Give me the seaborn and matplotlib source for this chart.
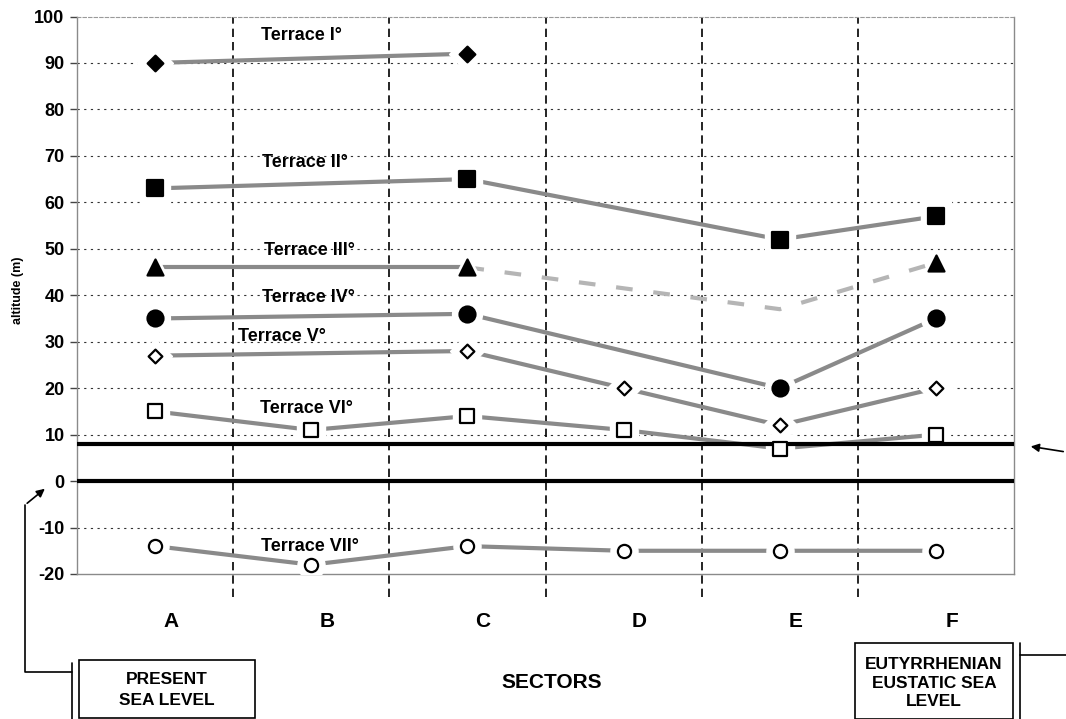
import numpy as np
import pandas as pd
import matplotlib
matplotlib.use('Agg')
import matplotlib.pyplot as plt
from matplotlib.lines import Line2D
from matplotlib.patches import Rectangle, FancyArrowPatch
import seaborn as sns

# --- Data ---
sectors = ['A', 'B', 'C', 'D', 'E', 'F']
nan = np.nan
terrace_1 = [90, nan, 92, nan, nan, nan]
terrace_2 = [63, nan, 65, nan, 52, 57]
terrace_3 = [46, nan, 46, nan, 37, 47]   # no marker at E, dashed after C
terrace_4 = [35, nan, 36, nan, 20, 35]
terrace_5 = [27, nan, 28, 20, 12, 20]
terrace_6 = [15, 11, 14, 11, 7, 10]
terrace_7 = [-14, -18, -14, -15, -15, -15]
terrace_names = ['Terrace I°', 'Terrace II°', 'Terrace III°', 'Terrace IV°',
                 'Terrace V°', 'Terrace VI°', 'Terrace VII°']
eutyrrhenian_level = 8
present_level = 0

terraces = [terrace_1, terrace_2, terrace_3, terrace_4, terrace_5, terrace_6, terrace_7]

# marker style per terrace: (marker, size, filled)
styles = [('D', 8, True), ('s', 11, True), ('^', 11.5, True), ('o', 11.5, True),
          ('D', 7, False), ('s', 10, False), ('o', 9.5, False)]
# label anchor (x in sector units, y in metres)
label_pos = [(0.94, 95.9), (0.96, 68.6), (0.99, 49.7), (0.98, 39.6),
             (0.81, 31.2), (0.97, 15.7), (0.99, -14.0)]

sns.set_style('white')
plt.rcParams['font.family'] = ['Liberation Sans', 'DejaVu Sans']
plt.rcParams['font.weight'] = 'bold'
plt.rcParams['text.color'] = 'black'
plt.rcParams['ytick.color'] = 'black'
plt.rcParams['axes.unicode_minus'] = False

W, H = 1066, 719
fig = plt.figure(figsize=(W / 100, H / 100), dpi=100)
ax = fig.add_axes([77 / W, 1 - 574 / H, (1014 - 77) / W, (574 - 16.5) / H])

LINE = '#8a8a8a'
x_idx = np.arange(len(sectors))

for i, (vals, (mk, ms, filled)) in enumerate(zip(terraces, styles)):
    df = pd.DataFrame({'x': x_idx, 'y': vals}).dropna()
    if i == 2:
        solid = df[df['x'] <= 2]
        dashed = df[df['x'] >= 2]
        sns.lineplot(data=solid, x='x', y='y', ax=ax, color=LINE, lw=3, zorder=3)
        sns.lineplot(data=dashed, x='x', y='y', ax=ax, color='#b5b5b5', lw=3,
                     linestyle=(0, (4, 5)), zorder=3)
        df = df[df['x'] != 4]
    else:
        sns.lineplot(data=df, x='x', y='y', ax=ax, color=LINE, lw=3, zorder=3)
    # white halo to leave a gap between line and marker
    ax.plot(df['x'], df['y'], ls='none', marker=mk, ms=ms + 10, mfc='white',
            mec='white', zorder=4)
    sns.scatterplot(data=df, x='x', y='y', ax=ax, marker=mk, s=ms ** 2,
                    color='black' if filled else 'white', edgecolor='black',
                    linewidth=1.6, zorder=6)
    lx, ly = label_pos[i]
    ax.text(lx, ly, terrace_names[i], ha='center', va='center', fontsize=13,
            fontweight='bold', color='black', zorder=7)

# sea levels
ax.axhline(eutyrrhenian_level, color='black', lw=3, zorder=5)
ax.axhline(present_level, color='black', lw=3, zorder=5)

# grid
for yv in range(-10, 100, 10):
    ax.axhline(yv, color='#333333', lw=0.8, ls=(0, (2, 4)), zorder=1)
for xb in np.arange(0.5, len(sectors) - 1, 1):
    ax.axvline(xb, ymin=-0.041, ymax=1, color='black', lw=1.2,
               ls=(0, (5, 3)), zorder=2, clip_on=False)

ax.set_xlim(-0.5, len(sectors) - 0.5)
ax.set_ylim(-20, 100)
ax.set_yticks(range(-20, 101, 10))
ax.set_xticks([])
ax.set_xlabel('')
ax.set_ylabel('')
ax.tick_params(axis='y', direction='out', length=5, width=1, color='#444444',
               labelsize=13, pad=4, left=True, labelcolor='black')
for lab in ax.get_yticklabels():
    lab.set_fontweight('bold')

for side in ['left', 'bottom', 'right']:
    ax.spines[side].set_color('#8a8a8a')
    ax.spines[side].set_linewidth(1)
ax.spines['top'].set_color('#9a9a9a')
ax.spines['top'].set_linestyle((0, (3, 2)))

# sector labels
for i, s in enumerate(sectors):
    ax.text(i + 0.1, -0.086, s, transform=ax.get_xaxis_transform(), ha='center',
            va='center', fontsize=15, fontweight='bold', color='black')

fig.text(552 / W, 1 - 683 / H, 'SECTORS', ha='center', va='center',
         fontsize=15, fontweight='bold')
fig.text(18 / W, 1 - 290 / H, 'altitude (m)', ha='center', va='center',
         rotation=90, fontsize=9, fontweight='bold')


def fx(px):
    return px / W


def fy(py):
    return 1 - py / H


def fline(xs, ys, **kw):
    fig.add_artist(Line2D([fx(v) for v in xs], [fy(v) for v in ys],
                          transform=fig.transFigure, color='black', **kw))


# boxes
fig.add_artist(Rectangle((fx(79), fy(718)), fx(255) - fx(79), fy(660) - fy(718),
                         transform=fig.transFigure, fill=False, lw=1.2,
                         ec='black'))
fig.text(fx(167), fy(690), 'PRESENT\nSEA LEVEL', ha='center', va='center',
         fontsize=12.5, fontweight='bold', linespacing=1.45)
fig.add_artist(Rectangle((fx(855), fy(719)), fx(1013) - fx(855), fy(643) - fy(719),
                         transform=fig.transFigure, fill=False, lw=1.2,
                         ec='black'))
fig.text(fx(934), fy(683), 'EUTYRRHENIAN\nEUSTATIC SEA\nLEVEL', ha='center',
         va='center', fontsize=12.5, fontweight='bold', linespacing=1.3)

# connectors
fline([72, 72], [663, 719], lw=1.2)
fline([72, 25, 25], [672, 672, 505], lw=1.2)
fig.add_artist(FancyArrowPatch(
    (fx(25), fy(505)), (fx(47), fy(487)), transform=fig.transFigure,
    arrowstyle='-|>', mutation_scale=12, color='black', lw=1.2))
fline([1020, 1020], [643, 719], lw=1.2)
fline([1020, 1066], [655, 655], lw=1.2)
fig.add_artist(FancyArrowPatch(
    (fx(1066), fy(452)), (fx(1028), fy(446)), transform=fig.transFigure,
    arrowstyle='-|>', mutation_scale=12, color='black', lw=1.2))

fig.savefig('out.png', dpi=100)
